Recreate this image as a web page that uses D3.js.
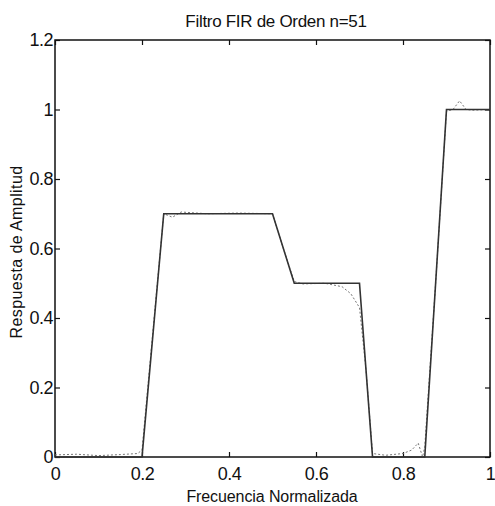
<!DOCTYPE html>
<html>
<head>
<meta charset="utf-8">
<script src="https://cdn.jsdelivr.net/npm/d3@7"></script>
<style>
  html, body { margin: 0; padding: 0; background: #fff; }
  svg { display: block; }
  text { font-family: "Liberation Sans", Arial, sans-serif; fill: #111; }
</style>
</head>
<body>
<svg id="chart" width="495" height="506"></svg>
<script>
// ---- data ----
const title = "Filtro FIR de Orden n=51";
const xLabel = "Frecuencia Normalizada";
const yLabel = "Respuesta de Amplitud";
const xTicks = [0, 0.2, 0.4, 0.6, 0.8, 1];
const yTicks = [0, 0.2, 0.4, 0.6, 0.8, 1, 1.2];

// desired (ideal) response
const desiredFreq = [0, 0.2, 0.25, 0.5, 0.55, 0.7, 0.73, 0.85, 0.9, 1];
const desiredAmp  = [0, 0, 0.7, 0.7, 0.5, 0.5, 0, 0, 1, 1];

// designed FIR response
const actualFreq = [0, 0.05, 0.1, 0.15, 0.19, 0.2, 0.225, 0.25, 0.27, 0.29, 0.35, 0.42, 0.5, 0.525, 0.55, 0.57, 0.62, 0.66, 0.68, 0.70, 0.715, 0.73, 0.76, 0.8, 0.82, 0.835, 0.845, 0.85, 0.875, 0.9, 0.915, 0.93, 0.945, 0.96, 1];
const actualAmp  = [0.006, 0.008, 0.004, 0.007, 0.01, 0.02, 0.36, 0.70, 0.69, 0.705, 0.70, 0.702, 0.70, 0.60, 0.505, 0.498, 0.50, 0.49, 0.47, 0.43, 0.25, 0.01, 0.005, 0.01, 0.02, 0.04, 0.0, 0.03, 0.5, 0.995, 1.0, 1.025, 1.0, 0.998, 1.0];

// ---- layout ----
const svg = d3.select("#chart");
const L = 55, R = 490, T = 40, B = 457;
const x = d3.scaleLinear().domain([0, 1]).range([L, R]);
const y = d3.scaleLinear().domain([0, 1.2]).range([B, T]);

const tickFont = "18px";

// frame
svg.append("rect").attr("x", L).attr("y", T).attr("width", R - L).attr("height", B - T)
  .attr("fill", "none").attr("stroke", "#111").attr("stroke-width", 1.5);

// axes with inward ticks
const gx = svg.append("g").attr("transform", `translate(0,${B})`)
  .call(d3.axisBottom(x).tickValues(xTicks).tickFormat(d3.format("")).tickSizeInner(-5).tickSizeOuter(0).tickPadding(10));
const gxTop = svg.append("g").attr("transform", `translate(0,${T})`)
  .call(d3.axisTop(x).tickValues(xTicks).tickFormat("").tickSizeInner(-5).tickSizeOuter(0));
const gy = svg.append("g").attr("transform", `translate(${L},0)`)
  .call(d3.axisLeft(y).tickValues(yTicks).tickFormat(d3.format("")).tickSizeInner(-5).tickSizeOuter(0).tickPadding(2));
const gyR = svg.append("g").attr("transform", `translate(${R},0)`)
  .call(d3.axisRight(y).tickValues(yTicks).tickFormat("").tickSizeInner(-5).tickSizeOuter(0));

[gx, gxTop, gy, gyR].forEach(g => {
  g.select(".domain").remove();
  g.selectAll(".tick line").attr("stroke", "#111").attr("stroke-width", 1.2);
  g.selectAll(".tick text").attr("font-size", tickFont).attr("fill", "#111")
    .style("font-family", "'Liberation Sans', Arial, sans-serif").style("letter-spacing", "-0.5px");
});

// lines
const line = d3.line().x(d => x(d[0])).y(d => y(d[1]));
const desired = desiredFreq.map((f, i) => [f, desiredAmp[i]]);
const actual = actualFreq.map((f, i) => [f, actualAmp[i]]);

svg.append("path").datum(actual).attr("d", line)
  .attr("fill", "none").attr("stroke", "#777").attr("stroke-width", 1)
  .attr("stroke-dasharray", "2,2");
svg.append("path").datum(desired).attr("d", line)
  .attr("fill", "none").attr("stroke", "#333").attr("stroke-width", 1.6);

// title and labels
svg.append("text").attr("x", 276).attr("y", 27).attr("text-anchor", "middle")
  .attr("font-size", "17px").style("letter-spacing", "-0.3px").text(title);
svg.append("text").attr("x", 272).attr("y", 502).attr("text-anchor", "middle")
  .attr("font-size", "16px").style("letter-spacing", "-0.1px").text(xLabel);
svg.append("text").attr("transform", "translate(22,252) rotate(-90)").attr("text-anchor", "middle")
  .attr("font-size", "16px").style("letter-spacing", "0.4px").text(yLabel);
</script>
</body>
</html>
